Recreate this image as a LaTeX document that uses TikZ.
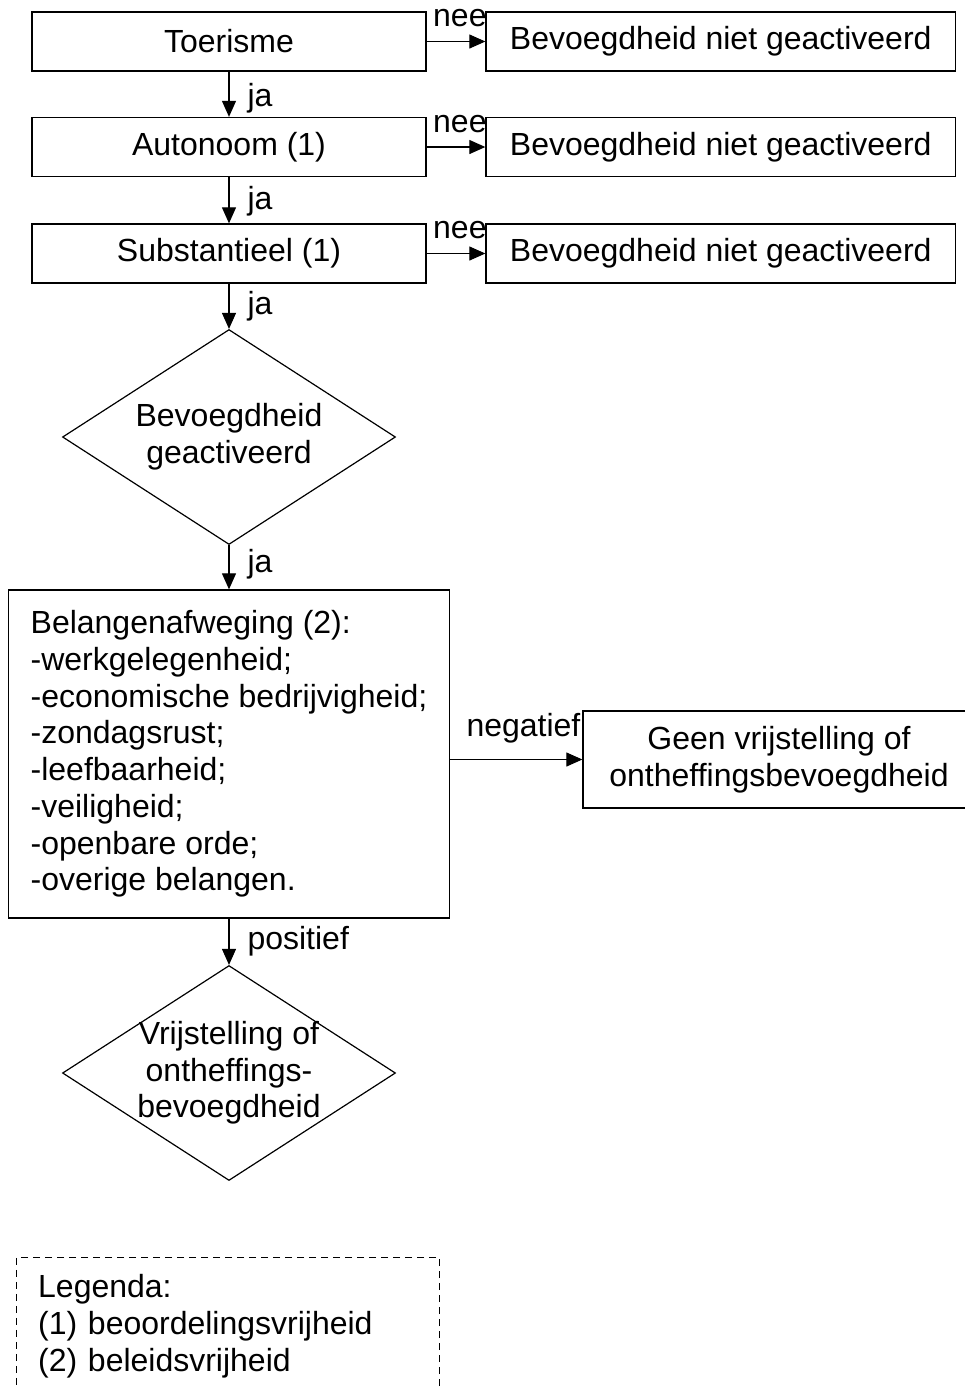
\documentclass[tikz,border=0pt]{standalone}
\usepackage{fontspec}
\setmainfont{Liberation Sans}
\usetikzlibrary{shapes.geometric,arrows.meta}

\begin{document}
\begin{tikzpicture}[x=0.5pt, y=-0.5pt,
		every node/.style={font=\fontsize{16pt}{18.35pt}\selectfont},
		blok/.style={draw, line width=0.65pt, minimum width=197pt, minimum height=29.5pt, inner sep=0pt},
		uitblok/.style={blok, minimum width=234.75pt},
		ruit/.style={draw, diamond, line width=0.6pt, minimum width=166.5pt, minimum height=107.5pt, inner sep=0pt},
		pijl/.style={line width=0.55pt, -{Triangle[length=8pt,width=7pt]}},
		ja/.style={anchor=base west, inner sep=0pt, xshift=9pt, pos=#1},
		nee/.style={anchor=base west, inner sep=0pt, pos=0, xshift=3pt, yshift=7.5pt}]
			%%%%% START %%%%%
			
			\useasboundingbox (0, 0) rectangle (965, 1389);
			\clip (0, 0) rectangle (965, 1389);
			
			\node[blok] (toer) at (229, 41.5) {Toerisme};
			\node[uitblok] (bng1) at (720.75, 41.5) {Bevoegdheid niet geactiveerd};
			
			\node[blok] (auto) at (229, 147) {Autonoom (1)};
			\node[uitblok] (bng2) at (720.75, 147) {Bevoegdheid niet geactiveerd};
			
			\node[blok] (subs) at (229, 253.5) {Substantieel (1)};
			\node[uitblok] (bng3) at (720.75, 253.5) {Bevoegdheid niet geactiveerd};
			
			\node[ruit, label={[align=center]center:{Bevoegdheid\\geactiveerd}}] (act) at (229, 437) {};
			
			\node[draw, line width=0.65pt, minimum width=220pt, minimum height=164pt, inner xsep=11pt, align=left] (belang) at (229, 754)
				{Belangenafweging (2):\\-werkgelegenheid;\\-economische bedrijvigheid;\\-zondagsrust;\\-leefbaarheid;\\-veiligheid;\\-openbare orde;\\-overige belangen.};
			
			\node[draw, line width=0.65pt, minimum width=196pt, minimum height=48.5pt, inner sep=0pt, align=center] (geen) at (779, 759.5)
				{Geen vrijstelling of\\ontheffingsbevoegdheid};
			
			\node[ruit, label={[align=center]center:{Vrijstelling of\\ontheffings-\\bevoegdheid}}] (vrij) at (229, 1073) {};
			
			\draw[pijl] (toer) -- (bng1) node[nee] {nee};
			\draw[pijl] (auto) -- (bng2) node[nee] {nee};
			\draw[pijl] (subs) -- (bng3) node[nee] {nee};
			
			\draw[pijl] (toer) -- (auto) node[ja=0.76] {ja};
			\draw[pijl] (auto) -- (subs) node[ja=0.7] {ja};
			\draw[pijl] (subs) -- (act) node[ja=0.68] {ja};
			\draw[pijl] (act) -- (belang) node[ja=0.62] {ja};
			\draw[pijl] (belang) -- (vrij) node[ja=0.67] {positief};
			\draw[pijl] (geen.west -| belang.east) -- (geen.west) node[anchor=base west, inner sep=0pt, pos=0, xshift=8pt, yshift=11.5pt] {negatief};
			
			\node[draw, line width=0.6pt, dash pattern=on 3.5pt off 2.5pt, anchor=north west, align=left, text width=190pt, inner xsep=10.8pt, inner ysep=8.5pt] (legenda) at (16, 1257)
				{Legenda:\\(1) beoordelingsvrijheid\\(2) beleidsvrijheid};
			
			%%%%% END %%%%%
		\end{tikzpicture}
\end{document}
